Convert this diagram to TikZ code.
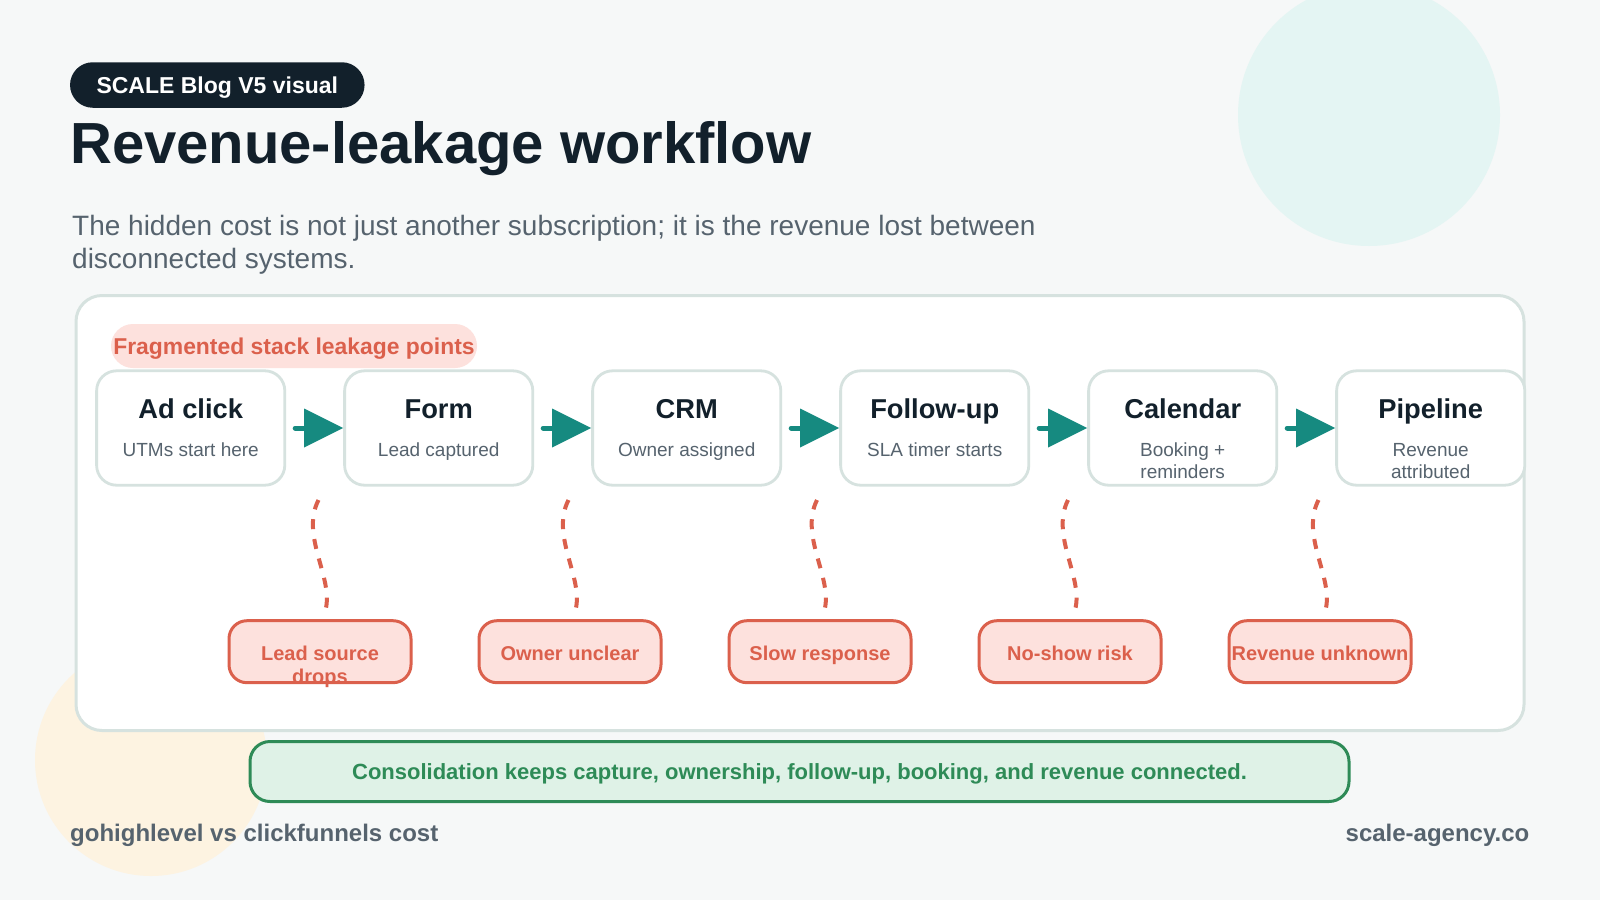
\documentclass[tikz,border=0pt]{standalone}
\usepackage{fontspec}
\setmainfont{Liberation Sans}
\usetikzlibrary{arrows.meta}
\definecolor{bgcol}{HTML}{F6F8F8}
\definecolor{navy}{HTML}{12202B}
\definecolor{slate}{HTML}{56636E}
\definecolor{flowteal}{HTML}{168A80}
\definecolor{coral}{HTML}{DB604C}
\definecolor{pinkfill}{HTML}{FDE1DD}
\definecolor{boxline}{HTML}{D6E2DF}
\definecolor{greenline}{HTML}{2E8B57}
\definecolor{greenfill}{HTML}{DFF2E7}
\definecolor{mintcirc}{HTML}{E4F5F3}
\definecolor{creamcirc}{HTML}{FDF3E1}
\newcommand\myfs[2]{\fontsize{#1}{#2}\selectfont}
\tikzset{
  card/.style={draw=boxline, line width=3pt, fill=white, rounded corners=26pt,
    minimum width=1448pt, minimum height=435pt, inner sep=0pt},
  tagpill/.style={fill=navy, text=white, rounded corners=22.7pt, minimum width=294.5pt,
    minimum height=45.5pt, inner sep=0pt, font=\myfs{23}{26}\bfseries,
    text height=16.5pt, text depth=0pt},
  fragpill/.style={fill=pinkfill, text=coral, rounded corners=22pt, minimum width=366pt,
    minimum height=44pt, inner sep=0pt, font=\myfs{22.9}{26}\bfseries,
    text height=16.4pt, text depth=0pt},
  stepbox/.style={draw=boxline, line width=2.8pt, fill=white, rounded corners=20pt,
    minimum width=188.2pt, minimum height=114.4pt, inner sep=0pt},
  steptitle/.style={anchor=base, inner sep=0pt, text=navy, font=\myfs{27.3}{30}\bfseries},
  stepsub/.style={anchor=base, inner sep=0pt, text=slate, font=\myfs{19}{22.5}},
  leakbox/.style={draw=coral, line width=3pt, fill=pinkfill, rounded corners=18pt,
    minimum width=182pt, minimum height=62pt, inner sep=0pt, text=coral,
    font=\myfs{20}{23}\bfseries, text height=16.6pt, text depth=0pt},
  flow/.style={draw=flowteal, line width=5pt, line cap=round,
    -{Triangle[length=39pt,width=39pt,line width=0pt]}},
  leak/.style={draw=coral, line width=4pt, dash pattern=on 10pt off 10pt},
  banner/.style={draw=greenline, line width=3pt, fill=greenfill, rounded corners=20pt,
    minimum width=1099pt, minimum height=60pt, inner sep=0pt, text=greenline,
    font=\myfs{22}{25}\bfseries, text height=15.75pt, text depth=0pt},
  footer/.style={inner sep=0pt, text=slate, font=\myfs{24}{27}\bfseries},
}
\begin{document}
\begin{tikzpicture}[x=1pt,y=-1pt]
\fill[bgcol] (0,0) rectangle (1600,900);
\useasboundingbox (0,0) rectangle (1600,900);
% decorative circles
\fill[mintcirc] (1369,115) circle[radius=131];
\fill[creamcirc] (151,760) circle[radius=116];

% header
\node[tagpill] (tag) at (217.3,85) {SCALE Blog V5 visual};
\node[anchor=base west, inner sep=0pt, text=navy, font=\myfs{58}{62}\bfseries]
  (title) at (70,163) {Revenue-leakage workflow};
\node[anchor=base west, inner sep=0pt, text=slate, font=\myfs{28}{33}]
  (sub1) at (72,235) {The hidden cost is not just another subscription; it is the revenue lost between};
\node[anchor=base west, inner sep=0pt, text=slate, font=\myfs{28}{33}]
  (sub2) at (72,268) {disconnected systems.};

% card
\node[card] (card) at (800,513) {};
\node[fragpill] (frag) at (294,346) {Fragmented stack leakage points};

% step boxes
\node[stepbox] (b1) at (190.7,428) {};
\node[stepbox] (b2) at (438.7,428) {};
\node[stepbox] (b3) at (686.7,428) {};
\node[stepbox] (b4) at (934.7,428) {};
\node[stepbox] (b5) at (1182.7,428) {};
\node[stepbox] (b6) at (1430.7,428) {};

\node[steptitle] (t1) at (190.7,418) {Ad click};
\node[steptitle] (t2) at (438.7,418) {Form};
\node[steptitle] (t3) at (686.7,418) {CRM};
\node[steptitle] (t4) at (934.7,418) {Follow-up};
\node[steptitle] (t5) at (1182.7,418) {Calendar};
\node[steptitle] (t6) at (1430.7,418) {Pipeline};

\node[stepsub] (u1) at (190.7,456) {UTMs start here};
\node[stepsub] (u2) at (438.7,456) {Lead captured};
\node[stepsub] (u3) at (686.7,456) {Owner assigned};
\node[stepsub] (u4) at (934.7,456) {SLA timer starts};
\node[stepsub] (u5) at (1182.7,456) {\begin{tabular}[t]{@{}c@{}}Booking +\\reminders\end{tabular}};
\node[stepsub] (u6) at (1430.7,456) {\begin{tabular}[t]{@{}c@{}}Revenue\\attributed\end{tabular}};

% flow arrows
\draw[flow] ([xshift=9pt]b1.east) -- (b2.west);
\draw[flow] ([xshift=9pt]b2.east) -- (b3.west);
\draw[flow] ([xshift=9pt]b3.east) -- (b4.west);
\draw[flow] ([xshift=9pt]b4.east) -- (b5.west);
\draw[flow] ([xshift=9pt]b5.east) -- (b6.west);

% leakage boxes
\node[leakbox] (l1) at (320,651.7) {\begin{tabular}[t]{@{}c@{}}Lead source\\drops\end{tabular}};
\node[leakbox] (l2) at (570,651.7) {Owner unclear};
\node[leakbox] (l3) at (820,651.7) {Slow response};
\node[leakbox] (l4) at (1070,651.7) {No-show risk};
\node[leakbox] (l5) at (1320,651.7) {Revenue unknown};

% dashed leak connectors
\coordinate (s1) at (318.5,500);  \coordinate (e1) at (325.5,610);
\coordinate (s2) at (568.5,500);  \coordinate (e2) at (575.5,610);
\coordinate (s3) at (817,500);    \coordinate (e3) at (824.5,610);
\coordinate (s4) at (1068,500);   \coordinate (e4) at (1075,610);
\coordinate (s5) at (1318.5,500); \coordinate (e5) at (1325.5,610);
\draw[leak] (s1) .. controls (300,536) and (334,578) .. (e1);
\draw[leak] (s2) .. controls (550,536) and (584,578) .. (e2);
\draw[leak] (s3) .. controls (799,536) and (833,578) .. (e3);
\draw[leak] (s4) .. controls (1050,536) and (1084,578) .. (e4);
\draw[leak] (s5) .. controls (1300,536) and (1334,578) .. (e5);

% banner
\node[banner] (banner) at (799.5,771.5) {Consolidation keeps capture, ownership, follow-up, booking, and revenue connected.};

% footer
\node[footer, anchor=base west] (fl) at (70,841) {gohighlevel vs clickfunnels cost};
\node[footer, anchor=base east] (fr) at (1529.5,841) {scale-agency.co};
\end{tikzpicture}
\end{document}
